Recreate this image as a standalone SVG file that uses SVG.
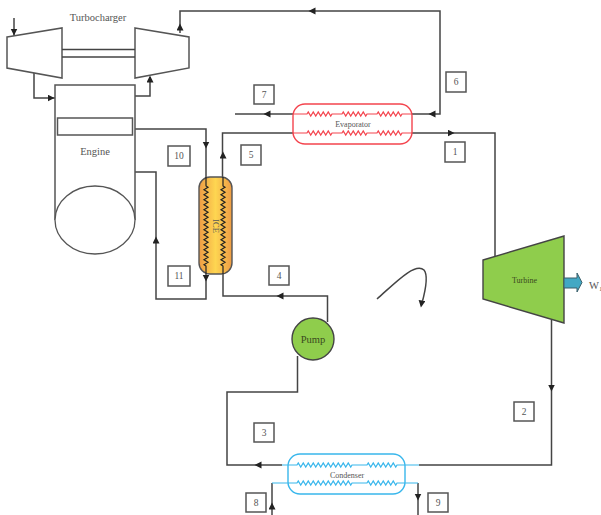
<svg xmlns="http://www.w3.org/2000/svg" width="601" height="515" viewBox="0 0 601 515">
<style>
text{font-family:"Liberation Serif","Times New Roman",serif;fill:#555;text-anchor:middle}
.m{font-size:10.5px}
.s{font-size:8px}
.n{font-size:9.5px}
.c{fill:none;stroke:#444;stroke-width:1.5}
.a{fill:none;stroke:none;marker-end:url(#ah)}
.b{fill:#fff;stroke:#555;stroke-width:1.5}
.o{fill:#fff;stroke:#555;stroke-width:1.3}
.z{fill:none;stroke-width:1.2}
</style>
<defs>
<marker id="ah" markerUnits="userSpaceOnUse" markerWidth="8" markerHeight="8" refX="3.5" refY="3.5" orient="auto"><path d="M0,0L7,3.5L0,7z" fill="#222"/></marker>
<linearGradient id="ice" x1="0" y1="0" x2="1" y2="0"><stop offset="0" stop-color="#ee9c45"/><stop offset=".5" stop-color="#fed651"/><stop offset="1" stop-color="#ee9c45"/></linearGradient>
</defs>
<rect width="601" height="515" fill="#fff"/>
<g id="connectors">
<path class="c" d="M14,18V37"/>
<path class="c" d="M34,73V98H55"/>
<path class="c" d="M135,96H150V77"/>
<path class="c" d="M180,33V11H440V114H412"/>
<path class="c" d="M293,114H235"/>
<path class="c" d="M222.500,177V133H293"/>
<path class="c" d="M412,133H495V256"/>
<path class="c" d="M135,129H206V177"/>
<path class="c" d="M206,274V299H156V172H135"/>
<path class="c" d="M223,274V296H327.500V322"/>
<path class="c" d="M297.500,356V392H227V465H282"/>
<path class="c" d="M419,465H551.500V320"/>
<path class="c" d="M272,515V483"/>
<path class="c" d="M418,483V515"/>
<path class="c" d="M377,299C395,283 415,262 424,270C429,276 425,292 422,303"/>
<path class="a" d="M14,28V32"/>
<path class="a" d="M46,98H51"/>
<path class="a" d="M150,84V79"/>
<path class="a" d="M180,32V27"/>
<path class="a" d="M320,11H312"/>
<path class="a" d="M438,114H432"/>
<path class="a" d="M275,114H267"/>
<path class="a" d="M445,133H451"/>
<path class="a" d="M206,140V145"/>
<path class="a" d="M223,160V155"/>
<path class="a" d="M206,273V278"/>
<path class="a" d="M156,245V240"/>
<path class="a" d="M290,296H280"/>
<path class="a" d="M551.500,382V388"/>
<path class="a" d="M265,465H258"/>
<path class="a" d="M272,510V506"/>
<path class="a" d="M418,492V497"/>
<path class="a" d="M422.500,298L421.500,304"/>
</g>
<g id="turbocharger">
<path class="b" d="M7,37L62,28V78L7,68Z"/>
<path class="b" d="M135,28L189,37V68L135,78Z"/>
<path class="c" d="M62,49.500H135M62,57H135"/>
<text class="m" x="98" y="21">Turbocharger</text>
</g>
<g id="engine">
<path class="b" d="M55,220V85H135V220"/>
<ellipse class="o" cx="95" cy="220" rx="40" ry="34"/>
<rect class="b" x="57.500" y="118" width="75" height="17"/>
<text class="m" x="95" y="155">Engine</text>
</g>
<g id="ice">
<rect x="199" y="177" width="33" height="97" rx="11" fill="url(#ice)" stroke="#555" stroke-width="1.4"/>
<path class="z" stroke="#222" d="M206,177v9l2,1.250 -4,2.500 4,2.500 -4,2.500 4,2.500 -4,2.500 4,2.500 -4,2.500 4,2.500 -4,2.500 4,2.500 -4,2.500 4,2.500 -4,2.500 4,2.500 -4,2.500 4,2.500 -4,2.500 4,2.500 -4,2.500 4,2.500 -4,2.500 4,2.500 -4,2.500 4,2.500 -4,2.500 4,2.500 -4,2.500 4,2.500 -4,2.500 4,2.500 -4,2.500 2,1.250V274"/>
<path class="z" stroke="#222" d="M223,177v9l2,1.250 -4,2.500 4,2.500 -4,2.500 4,2.500 -4,2.500 4,2.500 -4,2.500 4,2.500 -4,2.500 4,2.500 -4,2.500 4,2.500 -4,2.500 4,2.500 -4,2.500 4,2.500 -4,2.500 4,2.500 -4,2.500 4,2.500 -4,2.500 4,2.500 -4,2.500 4,2.500 -4,2.500 4,2.500 -4,2.500 4,2.500 -4,2.500 4,2.500 -4,2.500 2,1.250V274"/>
<text transform="translate(212.500,226) rotate(90)" style="font-size:8.5px">ICE</text>
</g>
<g id="evaporator">
<rect x="293" y="104" width="119" height="40" rx="12" fill="none" stroke="#f4444e" stroke-width="1.4"/>
<path class="z" stroke="#f4444e" d="M293,114H307l1.250,-2 2.500,4 2.500,-4 2.500,4 2.500,-4 2.500,4 2.500,-4 2.500,4 2.500,-4 2.500,4 1.250,-2H342l1.250,-2 2.500,4 2.500,-4 2.500,4 2.500,-4 2.500,4 2.500,-4 2.500,4 2.500,-4 2.500,4 1.250,-2H377l1.250,-2 2.500,4 2.500,-4 2.500,4 2.500,-4 2.500,4 2.500,-4 2.500,4 2.500,-4 2.500,4 1.250,-2H412"/>
<path class="z" stroke="#f4444e" d="M293,133H307l1.250,-2 2.500,4 2.500,-4 2.500,4 2.500,-4 2.500,4 2.500,-4 2.500,4 2.500,-4 2.500,4 1.250,-2H342l1.250,-2 2.500,4 2.500,-4 2.500,4 2.500,-4 2.500,4 2.500,-4 2.500,4 2.500,-4 2.500,4 1.250,-2H377l1.250,-2 2.500,4 2.500,-4 2.500,4 2.500,-4 2.500,4 2.500,-4 2.500,4 2.500,-4 2.500,4 1.250,-2H412"/>
<text class="s" x="353" y="127">Evaporator</text>
</g>
<g id="pump">
<circle cx="313" cy="339" r="21" fill="#8fcd4c" stroke="#444" stroke-width="1.4"/>
<text class="m" x="313" y="343" style="fill:#3a4a20">Pump</text>
</g>
<g id="turbine">
<path d="M483,260L564,236V323L483,299Z" fill="#8fcd4c" stroke="#444" stroke-width="1.4"/>
<text class="s" x="524.500" y="283" style="fill:#3a4a20">Turbine</text>
</g>
<g id="work-output">
<path d="M564,278H577V273L582,282.500L577,292V288H564Z" fill="#42a8c4" stroke="#3a5f6a" stroke-width="1"/>
<text class="m" x="589" y="289" style="text-anchor:start">W<tspan font-size="7" dy="2">1</tspan></text>
</g>
<g id="condenser">
<rect x="288" y="454" width="117" height="40" rx="12" fill="none" stroke="#39b7ec" stroke-width="1.4"/>
<path class="z" stroke="#39b7ec" d="M282,465H297l1.250,-2 2.500,4 2.500,-4 2.500,4 2.500,-4 2.500,4 2.500,-4 2.500,4 2.500,-4 2.500,4 2.500,-4 2.500,4 2.500,-4 2.500,4 2.500,-4 2.500,4 2.500,-4 2.500,4 2.500,-4 2.500,4 2.500,-4 2.500,4 1.250,-2H367l1.250,-2 2.500,4 2.500,-4 2.500,4 2.500,-4 2.500,4 2.500,-4 2.500,4 2.500,-4 2.500,4 2.500,-4 2.500,4 1.250,-2H419"/>
<path class="z" stroke="#39b7ec" d="M272,483H297l1.250,-2 2.500,4 2.500,-4 2.500,4 2.500,-4 2.500,4 2.500,-4 2.500,4 2.500,-4 2.500,4 2.500,-4 2.500,4 2.500,-4 2.500,4 2.500,-4 2.500,4 2.500,-4 2.500,4 2.500,-4 2.500,4 2.500,-4 2.500,4 1.250,-2H367l1.250,-2 2.500,4 2.500,-4 2.500,4 2.500,-4 2.500,4 2.500,-4 2.500,4 2.500,-4 2.500,4 2.500,-4 2.500,4 1.250,-2H418"/>
<text class="s" x="347" y="478">Condenser</text>
</g>
<g id="label-1"><rect class="b" x="445" y="142" width="20" height="20"/><text class="n" x="455" y="155">1</text></g>
<g id="label-2"><rect class="b" x="514" y="402" width="20" height="19"/><text class="n" x="524" y="415">2</text></g>
<g id="label-3"><rect class="b" x="254" y="423" width="20" height="19"/><text class="n" x="264" y="436">3</text></g>
<g id="label-4"><rect class="b" x="269" y="266" width="20" height="19"/><text class="n" x="279" y="279">4</text></g>
<g id="label-5"><rect class="b" x="241" y="145" width="20" height="20"/><text class="n" x="251" y="158">5</text></g>
<g id="label-6"><rect class="b" x="446" y="72" width="20" height="20"/><text class="n" x="456" y="85">6</text></g>
<g id="label-7"><rect class="b" x="254" y="85" width="20" height="19"/><text class="n" x="264" y="98">7</text></g>
<g id="label-8"><rect class="b" x="246" y="493" width="20" height="19"/><text class="n" x="256" y="506">8</text></g>
<g id="label-9"><rect class="b" x="428" y="493" width="20" height="19"/><text class="n" x="438" y="506">9</text></g>
<g id="label-10"><rect class="b" x="168" y="146" width="22" height="20"/><text class="n" x="179" y="159">10</text></g>
<g id="label-11"><rect class="b" x="168" y="266" width="22" height="20"/><text class="n" x="179" y="279">11</text></g>
</svg>
